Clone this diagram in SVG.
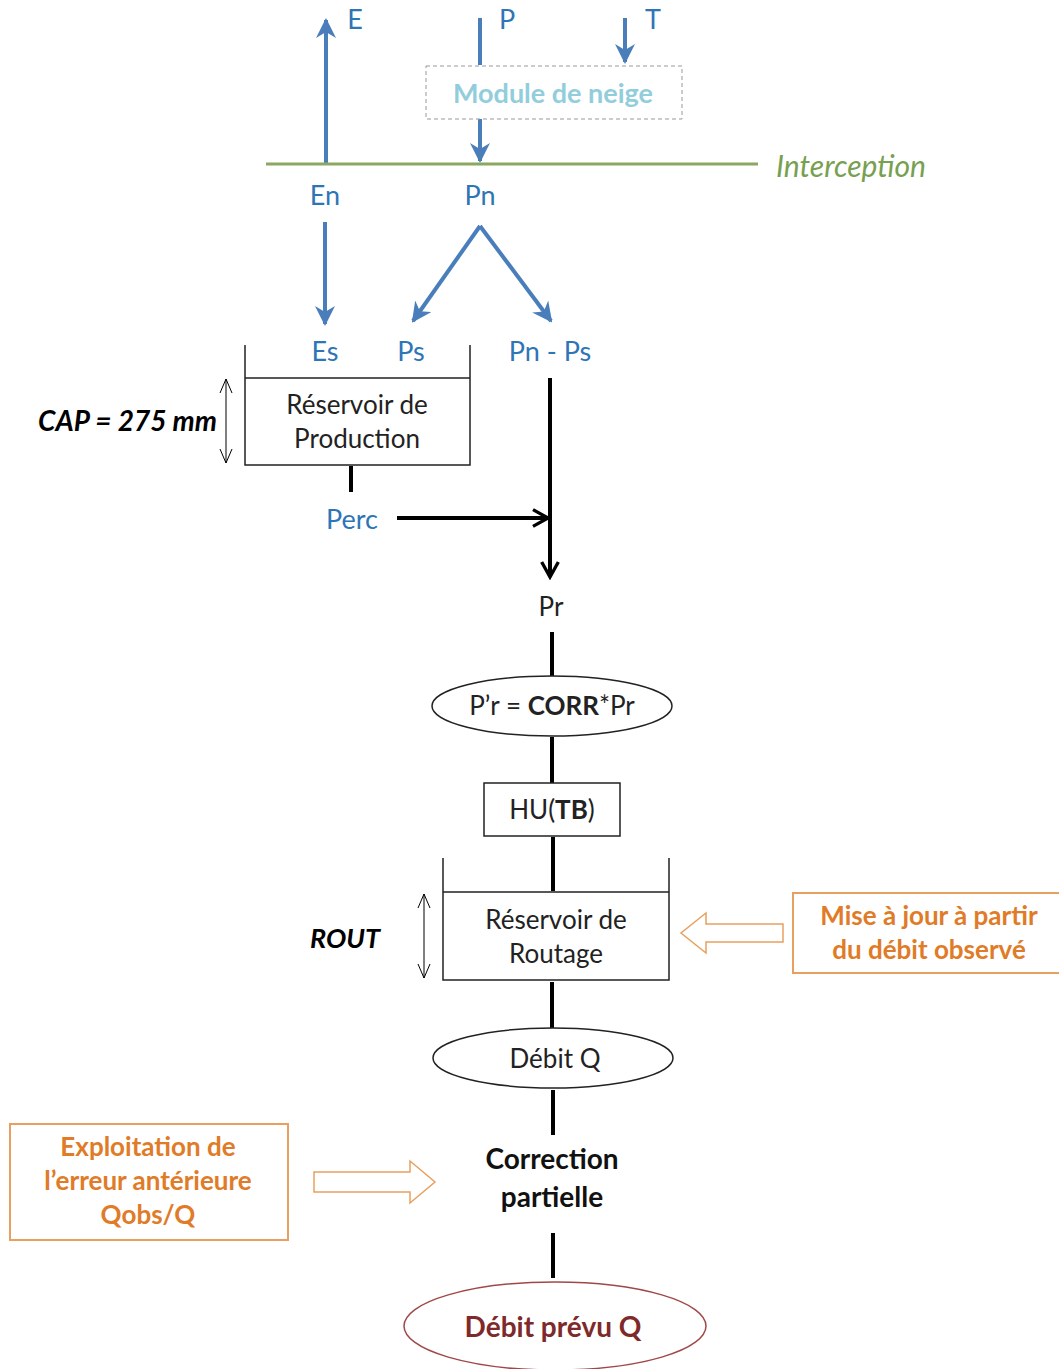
<svg xmlns="http://www.w3.org/2000/svg" width="1059" height="1369" viewBox="0 0 1059 1369">
<defs>
<marker id="ab" viewBox="0 0 10 10" refX="9" refY="5" markerWidth="5" markerHeight="5" orient="auto" markerUnits="strokeWidth">
<path d="M0,0 L10,5 L0,10 L3,5 z" fill="#4a7ebb"/>
</marker>
<marker id="ak" viewBox="0 0 12 12" refX="10" refY="6" markerWidth="5" markerHeight="5" orient="auto" markerUnits="strokeWidth">
<path d="M1,1 L10,6 L1,11" fill="none" stroke="#000" stroke-width="2"/>
</marker>
<marker id="dbl" viewBox="0 0 16 16" refX="15" refY="8" markerWidth="16" markerHeight="16" orient="auto" markerUnits="userSpaceOnUse">
<path d="M1,2 L15,8 L1,14" fill="none" stroke="#000" stroke-width="1"/>
</marker>
</defs>
<style>
text{font-family:Lato,"Liberation Sans",sans-serif;text-anchor:middle}
.bl{fill:#2e75b6;font-size:27px}
.bk{fill:#222;font-size:26px}
.or{fill:#e07b28;font-size:26px;font-weight:bold}
.ba{stroke:#4a7ebb;stroke-width:4;fill:none}
.k3{stroke:#000;stroke-width:4;fill:none}
.k1{stroke:#222;stroke-width:1.5;fill:none}
.thin{stroke:#000;stroke-width:1;fill:none}
.obox{fill:#fff;stroke:#e8a060;stroke-width:2}
.hol{fill:#fff;stroke:#e8a060;stroke-width:1.5}
</style>
<rect width="1059" height="1369" fill="#fff"/>
<g id="connectors">
<line class="ba" x1="326" y1="163" x2="326" y2="20" marker-end="url(#ab)"/>
<line class="ba" x1="480" y1="18" x2="480" y2="65"/>
<line class="ba" x1="625" y1="18" x2="625" y2="62" marker-end="url(#ab)"/>
<line class="ba" x1="480" y1="119" x2="480" y2="161" marker-end="url(#ab)"/>
<line x1="266" y1="164" x2="758" y2="164" stroke="#8aa860" stroke-width="3"/>
<line class="ba" x1="325" y1="222" x2="325" y2="324" marker-end="url(#ab)"/>
<line class="ba" x1="480" y1="226" x2="413" y2="321" marker-end="url(#ab)"/>
<line class="ba" x1="480" y1="226" x2="551" y2="321" marker-end="url(#ab)"/>
<line class="k3" x1="351" y1="466" x2="351" y2="492"/>
<line class="k3" x1="397" y1="518" x2="548" y2="518" marker-end="url(#ak)"/>
<line class="k3" x1="550" y1="378" x2="550" y2="577" marker-end="url(#ak)"/>
<line class="k3" x1="552" y1="632" x2="552" y2="676"/>
<line class="k3" x1="552" y1="737" x2="552" y2="783"/>
<line class="k3" x1="553" y1="837" x2="553" y2="891"/>
<line class="k3" x1="552" y1="982" x2="552" y2="1028"/>
<line class="k3" x1="553" y1="1090" x2="553" y2="1135"/>
<line class="k3" x1="553" y1="1233" x2="553" y2="1278"/>
<line class="thin" x1="226" y1="420" x2="226" y2="379" marker-end="url(#dbl)"/>
<line class="thin" x1="226" y1="420" x2="226" y2="463" marker-end="url(#dbl)"/>
<line class="thin" x1="424" y1="935" x2="424" y2="894" marker-end="url(#dbl)"/>
<line class="thin" x1="424" y1="935" x2="424" y2="978" marker-end="url(#dbl)"/>
<path class="hol" d="M783,924 L706,924 L706,913 L681,933 L706,953 L706,942 L783,942 Z"/>
<path class="hol" d="M314,1172 L410,1172 L410,1161 L435,1182 L410,1203 L410,1192 L314,1192 Z"/>
</g>
<g id="labels-top">
<text class="bl" x="355" y="29" font-size="25">E</text>
<text class="bl" x="507" y="29" font-size="25">P</text>
<text class="bl" x="653" y="29" font-size="25">T</text>
<text x="851" y="177" fill="#77a050" font-size="30" font-style="italic">Interception</text>
<text class="bl" x="325" y="205">En</text>
<text class="bl" x="480" y="205">Pn</text>
<text class="bl" x="325" y="361">Es</text>
<text class="bl" x="411" y="361">Ps</text>
<text class="bl" x="550" y="361">Pn - Ps</text>
<text class="bl" x="352" y="529">Perc</text>
<text class="bk" x="551" y="616">Pr</text>
</g>
<g id="snow">
<rect x="426" y="66" width="256" height="53" fill="#fff" stroke="#999" stroke-width="1" stroke-dasharray="4,3"/>
<text x="553" y="103" fill="#92cddc" font-size="27" font-weight="bold">Module de neige</text>
</g>
<g id="production">
<path class="k1" d="M245,345 V465 H470 V345 M245,378 H470"/>
<text class="bk" x="357" y="414">Réservoir de</text>
<text class="bk" x="357" y="448">Production</text>
<text x="217" y="431" font-size="28" font-weight="bold" font-style="italic" fill="#000" style="text-anchor:end">CAP = 275 mm</text>
</g>
<g id="corr">
<ellipse cx="552" cy="706" rx="120" ry="30" class="k1" fill="#fff"/>
<text class="bk" x="552" y="715">P’r = <tspan font-weight="bold">CORR</tspan>*Pr</text>
</g>
<g id="hu">
<rect x="484" y="783" width="136" height="53" class="k1" fill="#fff"/>
<text class="bk" x="552" y="819">HU(<tspan font-weight="bold">TB</tspan>)</text>
</g>
<g id="routage">
<path class="k1" d="M443,858 V980 H669 V858 M443,892 H669"/>
<text class="bk" x="556" y="929">Réservoir de</text>
<text class="bk" x="556" y="963">Routage</text>
<text x="345" y="948" font-size="27" font-weight="bold" font-style="italic" fill="#000">ROUT</text>
</g>
<g id="maj">
<rect class="obox" x="793" y="893" width="270" height="80"/>
<text class="or" x="929" y="925">Mise à jour à partir</text>
<text class="or" x="929" y="959">du débit observé</text>
</g>
<g id="debit">
<ellipse cx="553" cy="1058" rx="120" ry="30" class="k1" fill="#fff"/>
<text class="bk" x="555" y="1068">Débit Q</text>
</g>
<g id="correction">
<text x="552" y="1169" font-size="28" font-weight="bold" fill="#111">Correction</text>
<text x="552" y="1207" font-size="28" font-weight="bold" fill="#111">partielle</text>
</g>
<g id="exploit">
<rect class="obox" x="10" y="1124" width="278" height="116"/>
<text class="or" x="148" y="1156">Exploitation de</text>
<text class="or" x="148" y="1190">l’erreur antérieure</text>
<text class="or" x="148" y="1224">Qobs/Q</text>
</g>
<g id="prevu">
<ellipse cx="555" cy="1326" rx="151" ry="44" fill="#fff" stroke="#a04848" stroke-width="1.5"/>
<text x="553" y="1337" font-size="28" font-weight="bold" fill="#7f2a2a">Débit prévu Q</text>
</g>
</svg>
